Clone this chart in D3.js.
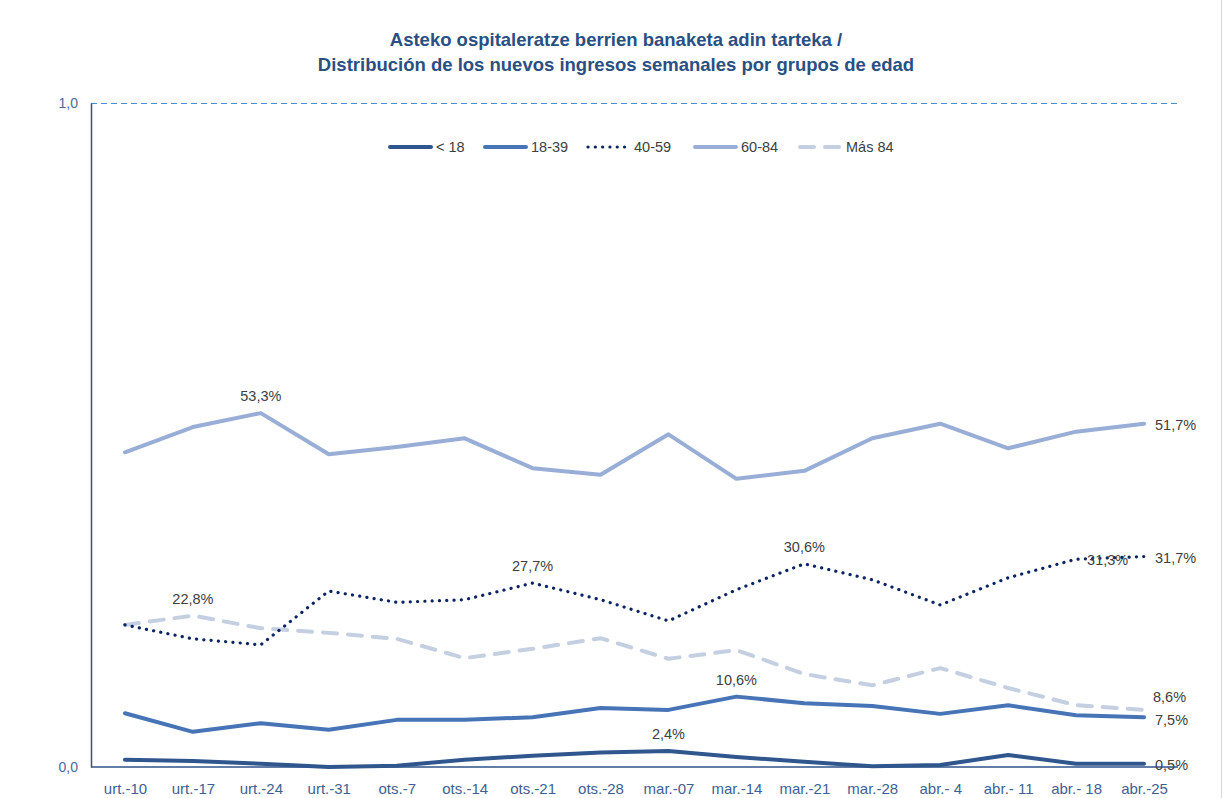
<!DOCTYPE html>
<html>
<head>
<meta charset="utf-8">
<script src="https://cdn.jsdelivr.net/npm/d3@7"></script>
<style>
  html, body { margin: 0; padding: 0; background: #fff; }
  svg { display: block; font-family: "Liberation Sans", "Open Sans", sans-serif; }
</style>
</head>
<body>
<svg id="chart" width="1223" height="798"></svg>
<script>
const categories = ["urt.-10","urt.-17","urt.-24","urt.-31","ots.-7","ots.-14","ots.-21","ots.-28","mar.-07","mar.-14","mar.-21","mar.-28","abr.- 4","abr.- 11","abr.- 18","abr.-25"];
const under18   = [0.011,0.009,0.005,0.000,0.002,0.011,0.017,0.022,0.024,0.015,0.008,0.001,0.003,0.018,0.005,0.005];
const age18_39  = [0.081,0.053,0.066,0.056,0.071,0.071,0.075,0.089,0.086,0.106,0.096,0.092,0.080,0.093,0.078,0.075];
const age40_59  = [0.214,0.193,0.184,0.265,0.248,0.252,0.277,0.252,0.220,0.267,0.306,0.282,0.244,0.285,0.313,0.317];
const age60_84  = [0.474,0.512,0.533,0.471,0.482,0.495,0.450,0.440,0.501,0.434,0.446,0.495,0.517,0.480,0.505,0.517];
const over84    = [0.214,0.228,0.209,0.202,0.193,0.164,0.178,0.194,0.163,0.176,0.140,0.123,0.149,0.119,0.093,0.086];
const seriesNames = ["< 18","18-39","40-59","60-84","Más 84"];
const yTicks = [0, 1];
const titleLines = ["Asteko ospitaleratze berrien banaketa adin tarteka /","Distribución de los nuevos ingresos semanales por grupos de edad"];

// labelled points: [series index, category index, placement]
const dataLabels = [
  [3, 2, "above"], [3, 15, "right"],
  [2, 6, "above"], [2, 10, "above"], [2, 14, "right"], [2, 15, "right"],
  [4, 1, "above"], [4, 15, "rightUp"],
  [1, 9, "above"], [1, 15, "rightDown"],
  [0, 8, "above"], [0, 15, "right"]
];

const seriesData = [under18, age18_39, age40_59, age60_84, over84];
const styles = [
  { color: "#30568E", width: 4,   dash: null,     cap: "round" },
  { color: "#4674B6", width: 4,   dash: null,     cap: "round" },
  { color: "#0B2463", width: 3.2, dash: "0.1 7.2", cap: "round" },
  { color: "#98AED6", width: 4,   dash: null,     cap: "round" },
  { color: "#C4CFE2", width: 4,   dash: "14 11",  cap: "round" }
];

const svg = d3.select("#chart");
const plotLeft = 91, plotRight = 1178, plotTop = 103, plotBottom = 767;

const x = d3.scalePoint().domain(categories).range([plotLeft, plotRight]).padding(0.5);
const y = d3.scaleLinear().domain([0, 1]).range([plotBottom, plotTop]);

// chart right border
svg.append("line").attr("x1", 1221.5).attr("x2", 1221.5).attr("y1", 0).attr("y2", 798)
  .attr("stroke", "#D0DAEA").attr("stroke-width", 1);

// title
const title = svg.append("text").attr("text-anchor", "middle").attr("fill", "#2A4F82")
  .attr("font-weight", "bold").attr("font-size", 18.5);
titleLines.forEach((t, i) => title.append("tspan").attr("x", 616).attr("y", 46 + i * 25).text(t));

// top gridline
svg.append("g").selectAll("line").data(yTicks.filter(d => d > 0)).join("line")
  .attr("x1", plotLeft).attr("x2", plotRight).attr("y1", d => y(d) + 0.5).attr("y2", d => y(d) + 0.5)
  .attr("stroke", "#4A8CD6").attr("stroke-width", 1).attr("stroke-dasharray", "6 4")
  .attr("shape-rendering", "crispEdges");

// y axis
const fmt = d => d3.format(".1f")(d).replace(".", ",");
const yAxis = svg.append("g").attr("transform", `translate(${plotLeft},0)`)
  .call(d3.axisLeft(y).tickValues(yTicks).tickFormat(fmt).tickSize(0).tickPadding(13));
yAxis.select(".domain").attr("stroke", "#2F5389").attr("stroke-width", 1.5);
yAxis.selectAll("text").attr("fill", "#4A6A9A").attr("font-size", 14);

// x axis
const xAxis = svg.append("g").attr("transform", `translate(0,${plotBottom})`)
  .call(d3.axisBottom(x).tickSize(0).tickPadding(16));
xAxis.select(".domain").attr("stroke", "#2F5389").attr("stroke-width", 1.5)
  .attr("d", `M${plotLeft},0H${plotRight}`);
xAxis.selectAll("text").attr("fill", "#3E5F94").attr("font-size", 15);

// lines
const line = d3.line().x((d, i) => x(categories[i])).y(d => y(d));
const drawOrder = [3, 4, 2, 1, 0];
drawOrder.forEach(si => {
  const s = styles[si];
  svg.append("path").datum(seriesData[si]).attr("d", line)
    .attr("fill", "none").attr("stroke", s.color).attr("stroke-width", s.width)
    .attr("stroke-linecap", s.cap).attr("stroke-linejoin", "round")
    .attr("stroke-dasharray", s.dash);
});

// data labels
const pct = v => d3.format(".1f")(v * 100).replace(".", ",") + "%";
dataLabels.forEach(([si, ci, place]) => {
  const v = seriesData[si][ci];
  const px = x(categories[ci]), py = y(v);
  const t = svg.append("text").attr("fill", "#404040").attr("font-size", 14.5).text(pct(v));
  if (place === "above") t.attr("x", px).attr("y", py - 12).attr("text-anchor", "middle");
  else if (place === "right") t.attr("x", px + 11).attr("y", py + 6).attr("text-anchor", "start");
  else if (place === "rightUp") t.attr("x", px + 9).attr("y", py - 8).attr("text-anchor", "start");
  else if (place === "rightDown") t.attr("x", px + 11).attr("y", py + 8).attr("text-anchor", "start");
});

// legend
const legendX = [390, 485, 588, 695, 800];
const lg = svg.append("g");
seriesNames.forEach((name, i) => {
  const s = styles[i];
  const lx = legendX[i], ly = 147;
  lg.append("line").attr("x1", lx).attr("x2", lx + 41).attr("y1", ly).attr("y2", ly)
    .attr("stroke", s.color).attr("stroke-width", s.width)
    .attr("stroke-linecap", s.cap).attr("stroke-dasharray", s.dash);
  lg.append("text").attr("x", lx + 46).attr("y", ly + 5).attr("fill", "#404040")
    .attr("font-size", 14.5).text(name);
});
</script>
</body>
</html>
